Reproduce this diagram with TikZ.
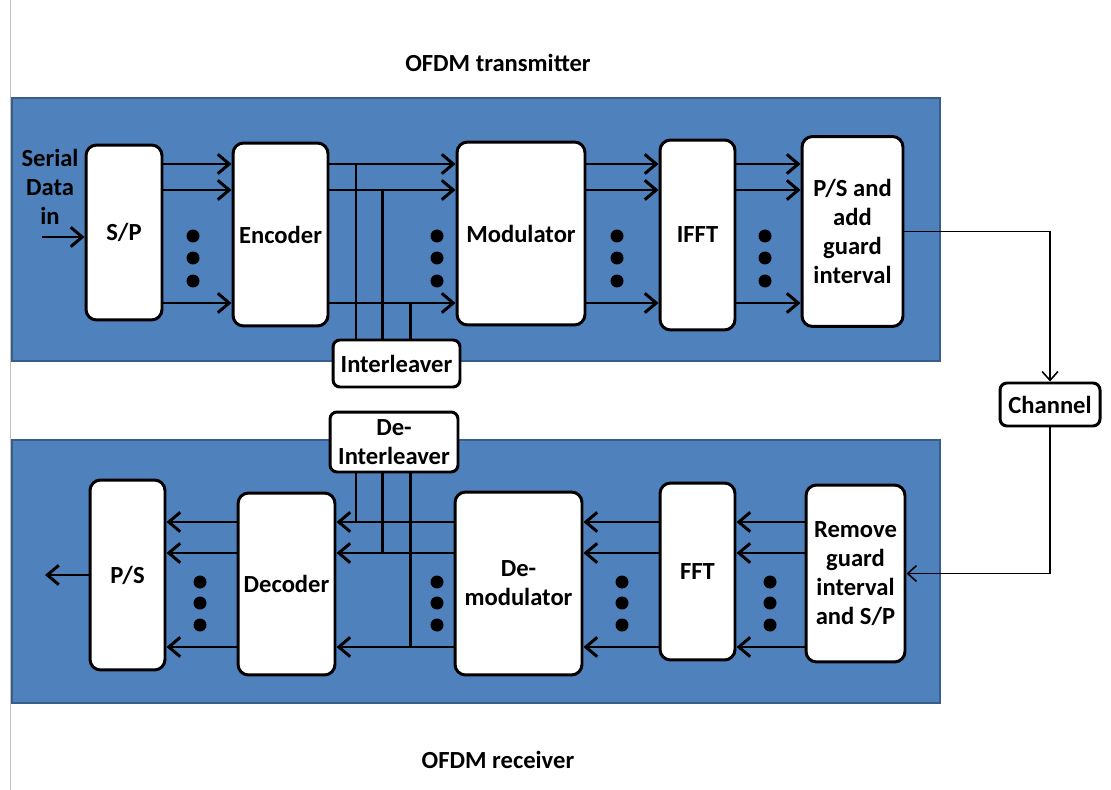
\documentclass[tikz,border=0pt]{standalone}
\usepackage{fontspec}
\setmainfont{Carlito}
\usetikzlibrary{arrows.meta, positioning}
\definecolor{panelblue}{HTML}{4F81BD}
\definecolor{panelborder}{HTML}{385D8A}
\newcommand{\blockfont}{\bfseries\fontsize{14}{16.5}\selectfont}
\tikzset{
    panel/.style={draw=panelborder, line width=1.2pt, fill=panelblue},
    block/.style={
        rectangle, draw=black, line width=1.7pt, rounded corners=6pt,
        fill=white, align=center, font=\blockfont, inner sep=2pt
    },
    smallblock/.style={block, rounded corners=4pt},
    wire/.style={draw=black, line width=1.7pt, -{Straight Barb[length=6.5pt,width=11pt]}},
    tapwire/.style={draw=black, line width=1.7pt},
    thinwire/.style={draw=black, line width=0.9pt, -{Straight Barb[length=5pt,width=9pt]}},
    title/.style={font=\blockfont}
}

\begin{document}
\begin{tikzpicture}[x=0.02cm, y=-0.02cm]
\useasboundingbox (0,0) rectangle (1111,790);
\draw[black!25, line width=0.5pt] (10,0) -- (10,790);

% Panels
\draw[panel] (12,98) rectangle (940,361);
\draw[panel] (12,440) rectangle (940,703);
\node[title] (ttx) at (498,63) {OFDM transmitter};
\node[title] (trx) at (498,760) {OFDM receiver};

% Transmitter blocks
\node[block, minimum width=1.52cm, minimum height=3.5cm] (sp) at (124,232.5) {S/P};
\node[block, minimum width=1.9cm, minimum height=3.66cm] (enc) at (280.5,234.5) {Encoder};
\node[block, minimum width=2.56cm, minimum height=3.66cm] (mod) at (521,233.5) {Modulator};
\node[block, minimum width=1.5cm, minimum height=3.8cm] (ifft) at (697.5,235) {IFFT};
\node[block, minimum width=2.02cm, minimum height=3.8cm] (psg) at (852.5,231.5) {P/S and\\add\\guard\\interval};
\node[smallblock, minimum width=2.54cm, minimum height=0.94cm] (intl) at (396.5,363.5) {Interleaver};
\node[font=\blockfont, align=center] (din) at (50,187) {Serial\\Data\\in};

% Channel
\node[smallblock, minimum width=2cm, minimum height=0.86cm] (chan) at (1050,404.5) {Channel};

% Receiver blocks
\node[block, minimum width=1.5cm, minimum height=3.8cm] (rps) at (127.5,575) {P/S};
\node[block, minimum width=1.94cm, minimum height=3.64cm] (dec) at (286.5,584) {Decoder};
\node[block, minimum width=2.54cm, minimum height=3.66cm] (dmod) at (518.5,583.5) {De-\\modulator};
\node[block, minimum width=1.5cm, minimum height=3.54cm] (fft) at (697.5,571.5) {FFT};
\node[block, minimum width=1.98cm, minimum height=3.54cm] (rem) at (855.5,573.5) {Remove\\guard\\interval\\and S/P};
\node[smallblock, minimum width=2.56cm, minimum height=1.2cm] (dint) at (394,442) {De-\\Interleaver};

% Rows of parallel lines
\coordinate (t1) at (0,164);
\coordinate (t2) at (0,190);
\coordinate (t3) at (0,303);
\coordinate (r1) at (0,522);
\coordinate (r2) at (0,553);
\coordinate (r3) at (0,647);

% Transmitter dataflow
\draw[wire] (42,237) -- (sp.west |- 0,237);
\foreach \a/\b in {sp/enc, enc/mod, mod/ifft, ifft/psg}
    \foreach \r in {t1,t2,t3}
        \draw[wire] (\a.east |- \r) -- (\b.west |- \r);

% Interleaver taps
\coordinate (i1) at (356,164);
\coordinate (i2) at (382,190);
\coordinate (i3) at (410,303);
\foreach \c in {i1,i2,i3}
    \draw[tapwire] (\c) -- (\c |- intl.north);

% Receiver dataflow
\foreach \a/\b in {rem/fft, fft/dmod, dmod/dec, dec/rps}
    \foreach \r in {r1,r2,r3}
        \draw[wire] (\a.west |- \r) -- (\b.east |- \r);
\draw[wire] (rps.west |- 0,575) -- (45,575);

% De-interleaver taps
\coordinate (d1) at (356,522);
\coordinate (d2) at (382,553);
\coordinate (d3) at (410,647);
\foreach \c in {d1,d2,d3}
    \draw[tapwire] (\c |- dint.south) -- (\c);

% Channel path
\draw[thinwire] (psg.east) -| (chan.north);
\draw[thinwire] (chan.south) |- (rem.east);

% Dots
\foreach \x in {193,437,617,765}
    \foreach \y in {236,258,281}
        \fill (\x,\y) circle (0.13cm);
\foreach \x in {200,437,622,770}
    \foreach \y in {582,603,625}
        \fill (\x,\y) circle (0.13cm);

\end{tikzpicture}
\end{document}
